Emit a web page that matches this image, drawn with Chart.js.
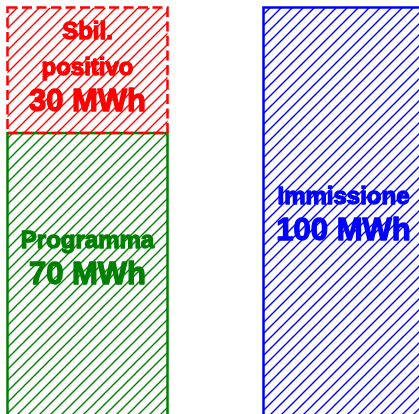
<!DOCTYPE html>
<html>
<head>
<meta charset="utf-8">
<script src="https://cdn.jsdelivr.net/npm/chart.js@4"></script>
<style>
  html, body { margin: 0; padding: 0; width: 419px; height: 414px; overflow: hidden; background: #fff; }
  #frame { position: absolute; left: -41px; top: 0; width: 513px; height: 430px; }
</style>
</head>
<body>
<div id="frame"><canvas id="chart"></canvas></div>
<script>
// Energy balance: scheduled programme plus positive imbalance vs. injected energy
const categories = ['Programma + sbilanciamento', 'Immissione'];
const programma = [70, null];
const sbilPositivo = [30, null];
const immissione = [null, 100];

// Label text and the value (MWh) at which each label block is centred
const seriesNames = [['Programma'], ['Sbil.', 'positivo'], ['Immissione']];
const labelAnchors = [40.5, 86, 51];
const unit = 'MWh';

const colors = ['#008000', '#ff0000', '#0000ff'];
const dashed = [false, true, false];

function hatch(color) {
  const s = 11;
  const c = document.createElement('canvas');
  c.width = s; c.height = s;
  const g = c.getContext('2d');
  g.strokeStyle = color;
  g.lineWidth = 1.4;
  g.beginPath();
  g.moveTo(-1, s + 1); g.lineTo(s + 1, -1);
  g.moveTo(-1, 1); g.lineTo(1, -1);
  g.moveTo(s - 1, s + 1); g.lineTo(s + 1, s - 1);
  g.stroke();
  return g.createPattern(c, 'repeat');
}

// Edges centred on the bar outline, plus the in-bar labels
const barDecor = {
  id: 'barDecor',
  afterDatasetsDraw(chart) {
    const ctx = chart.ctx;
    const yScale = chart.scales.y;
    chart.data.datasets.forEach((ds, i) => {
      const meta = chart.getDatasetMeta(i);
      meta.data.forEach((el, j) => {
        if (ds.data[j] == null) return;
        const p = el.getProps(['x', 'y', 'base', 'width'], true);
        const left = p.x - p.width / 2, right = p.x + p.width / 2;
        const top = Math.min(p.y, p.base), bottom = Math.max(p.y, p.base);
        ctx.save();
        ctx.strokeStyle = colors[i];
        ctx.lineWidth = 2.5;
        ctx.setLineDash(dashed[i] ? [10, 4.5] : []);
        ctx.strokeRect(left, top, right - left, bottom - top);
        ctx.restore();
      });
    });
    chart.data.datasets.forEach((ds, i) => {
      const meta = chart.getDatasetMeta(i);
      meta.data.forEach((el, j) => {
        if (ds.data[j] == null) return;
        const x = el.getProps(['x'], true).x;
        const lines = seriesNames[i].map(t => ({ text: t, size: 24 }));
        lines.push({ text: ds.data[j] + ' ' + unit, size: 31 });
        const step = 36;
        const anchor = yScale.getPixelForValue(labelAnchors[i]);
        let baseline = anchor - (lines.length - 1) * step / 2 + 9;
        ctx.save();
        ctx.fillStyle = colors[i];
        ctx.strokeStyle = colors[i];
        ctx.lineWidth = 1.3;
        ctx.lineJoin = 'round';
        ctx.textAlign = 'center';
        ctx.textBaseline = 'alphabetic';
        lines.forEach(l => {
          ctx.font = 'bold ' + l.size + 'px "Liberation Sans", Arial, sans-serif';
          ctx.strokeText(l.text, x, baseline);
          ctx.fillText(l.text, x, baseline);
          baseline += step;
        });
        ctx.restore();
      });
    });
  }
};

new Chart(document.getElementById('chart'), {
  type: 'bar',
  data: {
    labels: categories,
    datasets: [
      { label: 'Programma', data: programma, backgroundColor: hatch(colors[0]), borderWidth: 0 },
      { label: 'Sbil. positivo', data: sbilPositivo, backgroundColor: hatch(colors[1]), borderWidth: 0 },
      { label: 'Immissione', data: immissione, backgroundColor: hatch(colors[2]), borderWidth: 0 }
    ]
  },
  options: {
    responsive: true,
    maintainAspectRatio: false,
    animation: false,
    devicePixelRatio: 1,
    layout: { padding: { left: 0.5, right: 0.5, top: 7.5, bottom: 4 } },
    datasets: { bar: { barPercentage: 0.625, categoryPercentage: 1 } },
    scales: {
      x: { stacked: true, display: false },
      y: { stacked: true, display: false, min: 0, max: 100 }
    },
    plugins: { legend: { display: false }, tooltip: { enabled: false } }
  },
  plugins: [barDecor]
});
</script>
</body>
</html>
